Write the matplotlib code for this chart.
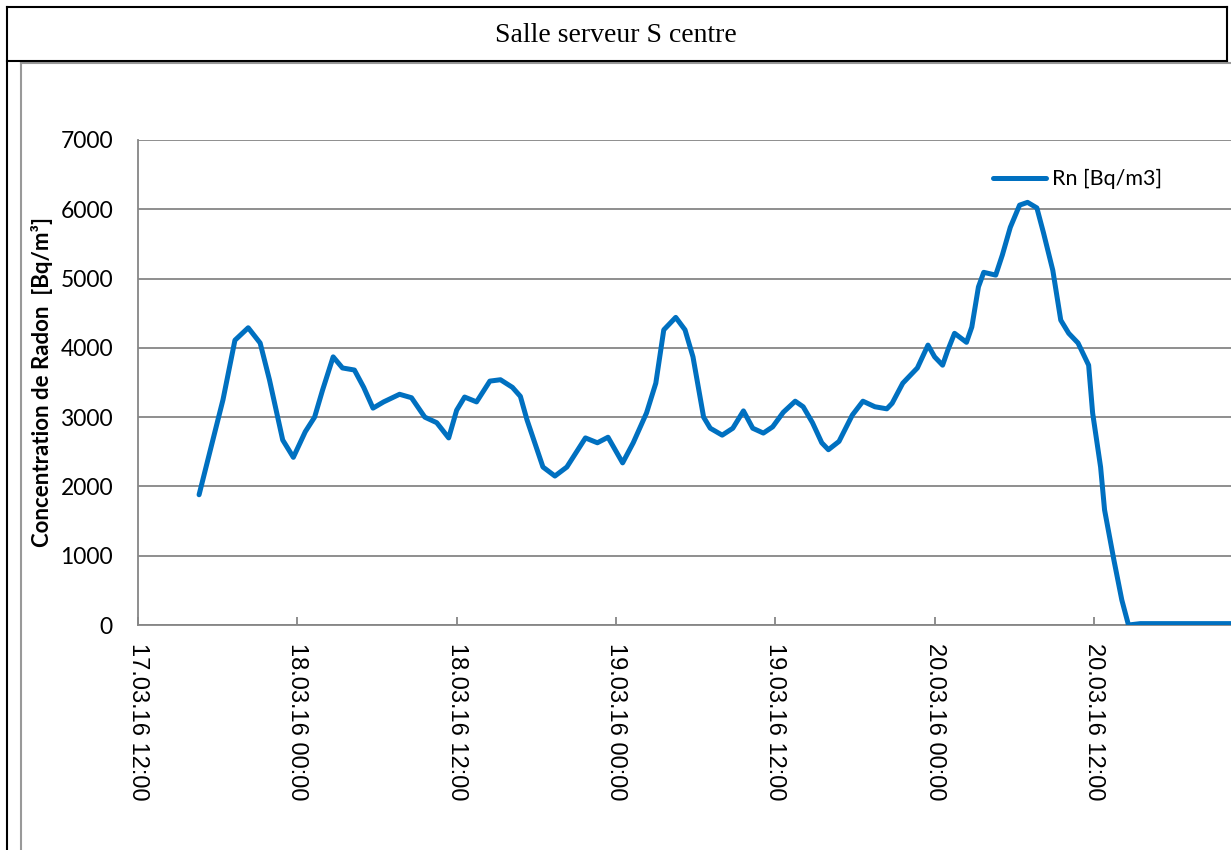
import datetime as dt
import matplotlib
matplotlib.use("Agg")
import matplotlib.pyplot as plt
import matplotlib.dates as mdates
from matplotlib.lines import Line2D

# ---- data (hours after 17.03.16 12:00, radon concentration) ----
hours = [4.6, 6.4, 7.3, 8.3, 9.2, 9.9, 10.9, 11.7, 12.6, 13.3, 13.9, 14.7, 15.4, 16.3,
         17.0, 17.7, 18.5, 19.7, 20.6, 21.6, 22.5, 23.4, 24.0, 24.6, 25.5, 26.5, 27.3,
         28.2, 28.8, 29.3, 30.5, 31.4, 32.3, 33.7, 34.6, 35.4, 36.5, 37.3, 38.3, 39.0,
         39.6, 40.5, 41.2, 41.8, 42.6, 43.1, 44.0, 44.8, 45.6, 46.3, 47.1, 47.8, 48.6,
         49.5, 50.1, 50.8, 51.5, 52.0, 52.8, 53.8, 54.6, 55.5, 56.4, 56.8, 57.6, 58.7,
         59.5, 60.0, 60.6, 61.0, 61.5, 62.4, 62.8, 63.3, 63.7, 64.6, 65.1, 65.7, 66.4,
         67.0, 67.7, 68.2, 68.9, 69.5, 70.1, 70.8, 71.6, 71.9, 72.5, 72.8, 73.5, 74.1,
         74.6, 75.5, 78.0, 81.0, 83.0]
radon = [1880, 3250, 4110, 4290, 4070, 3540, 2670, 2420, 2790, 3000, 3390, 3870, 3710, 3680,
         3430, 3130, 3220, 3330, 3280, 3000, 2920, 2700, 3100, 3290, 3220, 3520, 3540,
         3430, 3300, 2960, 2280, 2150, 2280, 2700, 2630, 2710, 2340, 2630, 3060, 3490,
         4260, 4440, 4260, 3870, 3000, 2840, 2740, 2840, 3090, 2840, 2770, 2860, 3070,
         3230, 3150, 2920, 2630, 2530, 2650, 3030, 3230, 3150, 3120, 3200, 3490, 3710,
         4040, 3870, 3750, 3970, 4210, 4080, 4300, 4880, 5090, 5050, 5340, 5740, 6060,
         6100, 6020, 5660, 5120, 4400, 4210, 4070, 3750, 3060, 2280, 1660, 940, 360,
         0, 20, 20, 20, 20]
series_label = "Rn [Bq/m3]"
title = "Salle serveur S centre"
ylabel = "Concentration de Radon  [Bq/m\u00b3]"
yticks = [0, 1000, 2000, 3000, 4000, 5000, 6000, 7000]

base = dt.datetime(2016, 3, 17, 12, 0)
times = [base + dt.timedelta(hours=h) for h in hours]

W, H = 1231, 850
fig = plt.figure(figsize=(W / 100, H / 100), dpi=100)
fig.patch.set_facecolor("white")


def fx(px):
    return px / W


def fy(py):
    return 1 - py / H


# axes: x 0..83 h spans pixels 138..1240 (clipped by the figure edge)
ax = fig.add_axes([fx(138), fy(625), (1240 - 138) / W, 485 / H])
ax.plot(times, radon, color="#0070C0", lw=3.6, solid_joinstyle="round",
        solid_capstyle="round", label=series_label, zorder=3)

ax.set_xlim(base, base + dt.timedelta(hours=83))
ax.set_ylim(0, 7000)
ax.set_yticks(yticks)
ax.xaxis.set_major_locator(mdates.HourLocator(byhour=[0, 12]))
ax.xaxis.set_major_formatter(mdates.DateFormatter("%d.%m.%y %H:%M"))

grid_c = "#868686"
ax.grid(axis="y", color=grid_c, lw=1.3)
ax.grid(axis="x", visible=False)
ax.set_axisbelow(True)
for s in ["top", "right"]:
    ax.spines[s].set_visible(False)
for s in ["left", "bottom"]:
    ax.spines[s].set_color(grid_c)
    ax.spines[s].set_linewidth(1.3)

ax.tick_params(axis="y", length=0, pad=18, labelsize=16.5, labelcolor="black")
ax.tick_params(axis="x", direction="in", length=6, width=1.3, color=grid_c,
               pad=13, labelsize=17, labelcolor="black", labelrotation=270)
for lab in ax.get_yticklabels():
    lab.set_family("Lato")
for lab in ax.get_xticklabels():
    lab.set_family("Liberation Sans")

leg = ax.legend(loc="center left", bbox_to_anchor=(fx(993), fy(179)),
                bbox_transform=fig.transFigure, frameon=False, borderpad=0,
                borderaxespad=0, handlelength=2.45, handletextpad=0.3,
                prop={"family": "Lato", "size": 15.5})

# title & y label
fig.text(fx(616), fy(36), title, ha="center", va="center",
         family="Liberation Serif", size=20)
fig.text(fx(42), fy(382), ylabel, ha="center", va="center", rotation=90,
         family="Lato", weight="bold", size=16)

# frame lines (table borders)
def fline(xs, ys, color, lw):
    fig.add_artist(Line2D([fx(v) for v in xs], [fy(v) for v in ys],
                          transform=fig.transFigure, color=color, lw=lw,
                          solid_capstyle="projecting"))

gray = "#999999"
fline([21, 1231], [63, 63], gray, 1.5)
fline([21, 21], [63, 850], gray, 1.5)
fline([7, 1227], [7, 7], "black", 1.5)
fline([7, 1227], [61, 61], "black", 1.5)
fline([7, 7], [7, 850], "black", 1.5)
fline([1227, 1227], [7, 61], "black", 1.5)

fig.savefig("out.png", dpi=100)
